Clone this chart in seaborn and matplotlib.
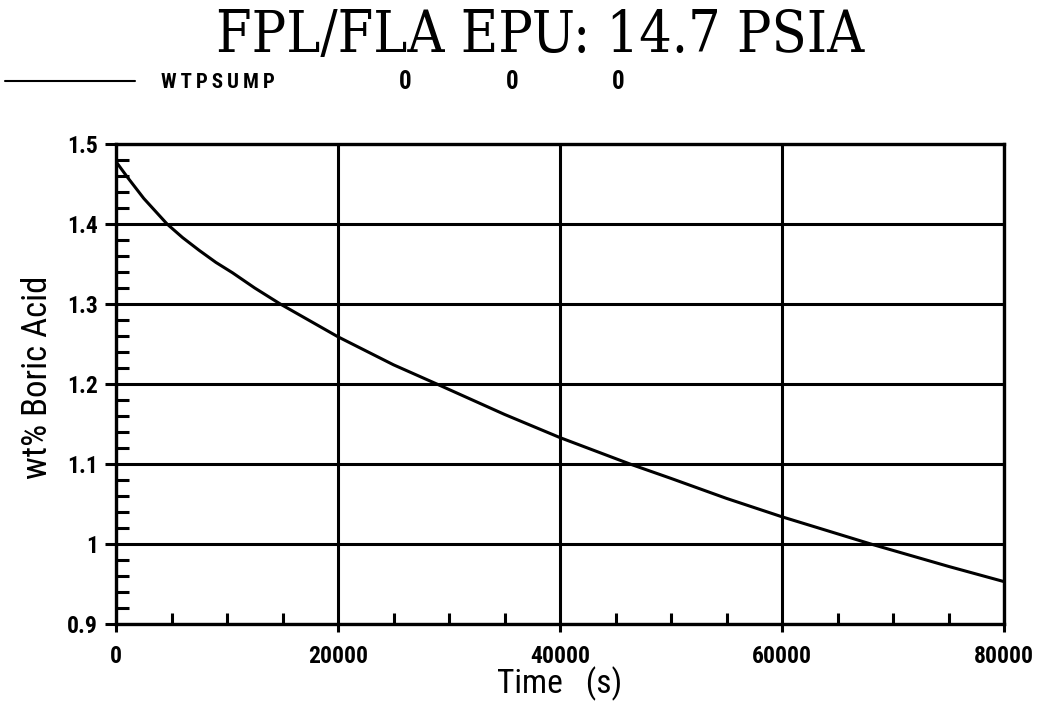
import matplotlib
matplotlib.use("Agg")
import matplotlib.pyplot as plt
from matplotlib.ticker import MultipleLocator
import seaborn as sns
import pandas as pd
from matplotlib import font_manager

# ---- data ----
time_s = [0, 1000, 2500, 4600, 6000, 7500, 9000, 10500, 12500, 14800, 20000, 25000,
          28900, 35000, 40000, 46300, 50000, 55000, 60000, 68000, 75000, 80000]
wt_boric = [1.478, 1.459, 1.432, 1.400, 1.383, 1.367, 1.352, 1.339, 1.320, 1.300,
            1.259, 1.224, 1.200, 1.162, 1.133, 1.100, 1.082, 1.057, 1.034, 1.000,
            0.972, 0.953]
x_ticks = [0, 20000, 40000, 60000, 80000]
y_ticks = [0.9, 1.0, 1.1, 1.2, 1.3, 1.4, 1.5]
y_tick_labels = ["0.9", "1", "1.1", "1.2", "1.3", "1.4", "1.5"]
title_text = "FPL/FLA EPU: 14.7 PSIA"
legend_name = "WTPSUMP"
legend_values = ["0", "0", "0"]

df = pd.DataFrame({"Time": time_s, "wt": wt_boric})

sns.set_style("white")
names = {f.name for f in font_manager.fontManager.ttflist}
narrow = "DejaVu Sans"
for cand in ["Liberation Sans Narrow", "Roboto Condensed", "Open Sans Condensed"]:
    if cand in names:
        narrow = cand
        break
plt.rcParams["font.family"] = [narrow, "DejaVu Sans"]
plt.rcParams["font.stretch"] = "condensed"
for key in ["text.color", "axes.labelcolor", "xtick.color", "ytick.color"]:
    plt.rcParams[key] = "black"

fig = plt.figure(figsize=(10.4, 7.08), dpi=100)
ax = fig.add_axes([116 / 1040, 1 - 624 / 708, (1004 - 116) / 1040, (624 - 144) / 708])

sns.lineplot(data=df, x="Time", y="wt", ax=ax, color="black", linewidth=2.2, zorder=3)

ax.set_xlim(0, 80000)
ax.set_ylim(0.9, 1.5)
ax.set_xticks(x_ticks)
ax.set_xticklabels([str(v) for v in x_ticks])
ax.set_yticks(y_ticks)
ax.set_yticklabels(y_tick_labels)
ax.xaxis.set_minor_locator(MultipleLocator(5000))
ax.yaxis.set_minor_locator(MultipleLocator(0.02))

ax.grid(True, which="major", color="black", linewidth=2.2)
for s in ax.spines.values():
    s.set_color("black")
    s.set_linewidth(2.4)
    s.set_visible(True)

ax.tick_params(axis="y", which="major", direction="out", length=8, width=2.2,
               pad=5, labelsize=17, left=True, right=False)
ax.tick_params(axis="y", which="minor", direction="in", length=9, width=2.2,
               left=True, right=False)
ax.tick_params(axis="x", which="major", direction="out", length=6, width=2.2,
               pad=9, labelsize=17, bottom=True, top=False)
ax.tick_params(axis="x", which="minor", direction="in", length=8, width=2.2,
               bottom=True, top=False)
for lbl in ax.get_xticklabels() + ax.get_yticklabels():
    lbl.set_fontweight("bold")
    lbl.set_fontstretch("condensed")

ax.set_xlabel("")
ax.set_ylabel("")
fig.text(560 / 1040, 1 - 684 / 708, "Time   (s)", ha="center", va="center",
         fontsize=24, fontstretch="condensed")
fig.text(38 / 1040, 1 - 377 / 708, "wt% Boric Acid", ha="center", va="center",
         rotation=90, fontsize=25, fontstretch="condensed")

# title
fig.text(540 / 1040, 1 - 36 / 708, title_text, ha="center", va="center",
         fontsize=41, family=["DejaVu Serif"], fontstretch="condensed")

# legend row
fig.add_artist(plt.Line2D([5 / 1040, 135 / 1040], [1 - 81 / 708, 1 - 81 / 708],
                          color="black", linewidth=1.5, transform=fig.transFigure))
fig.text(161 / 1040, 1 - 82 / 708, "\u2009".join(legend_name), ha="left", va="center",
         fontsize=15, fontweight="bold", fontstretch="condensed")
for xp, v in zip([405, 512, 618], legend_values):
    fig.text(xp / 1040, 1 - 82 / 708, v, ha="center", va="center",
             fontsize=18, fontweight="bold", fontstretch="condensed")

fig.savefig("out.png", dpi=100)
